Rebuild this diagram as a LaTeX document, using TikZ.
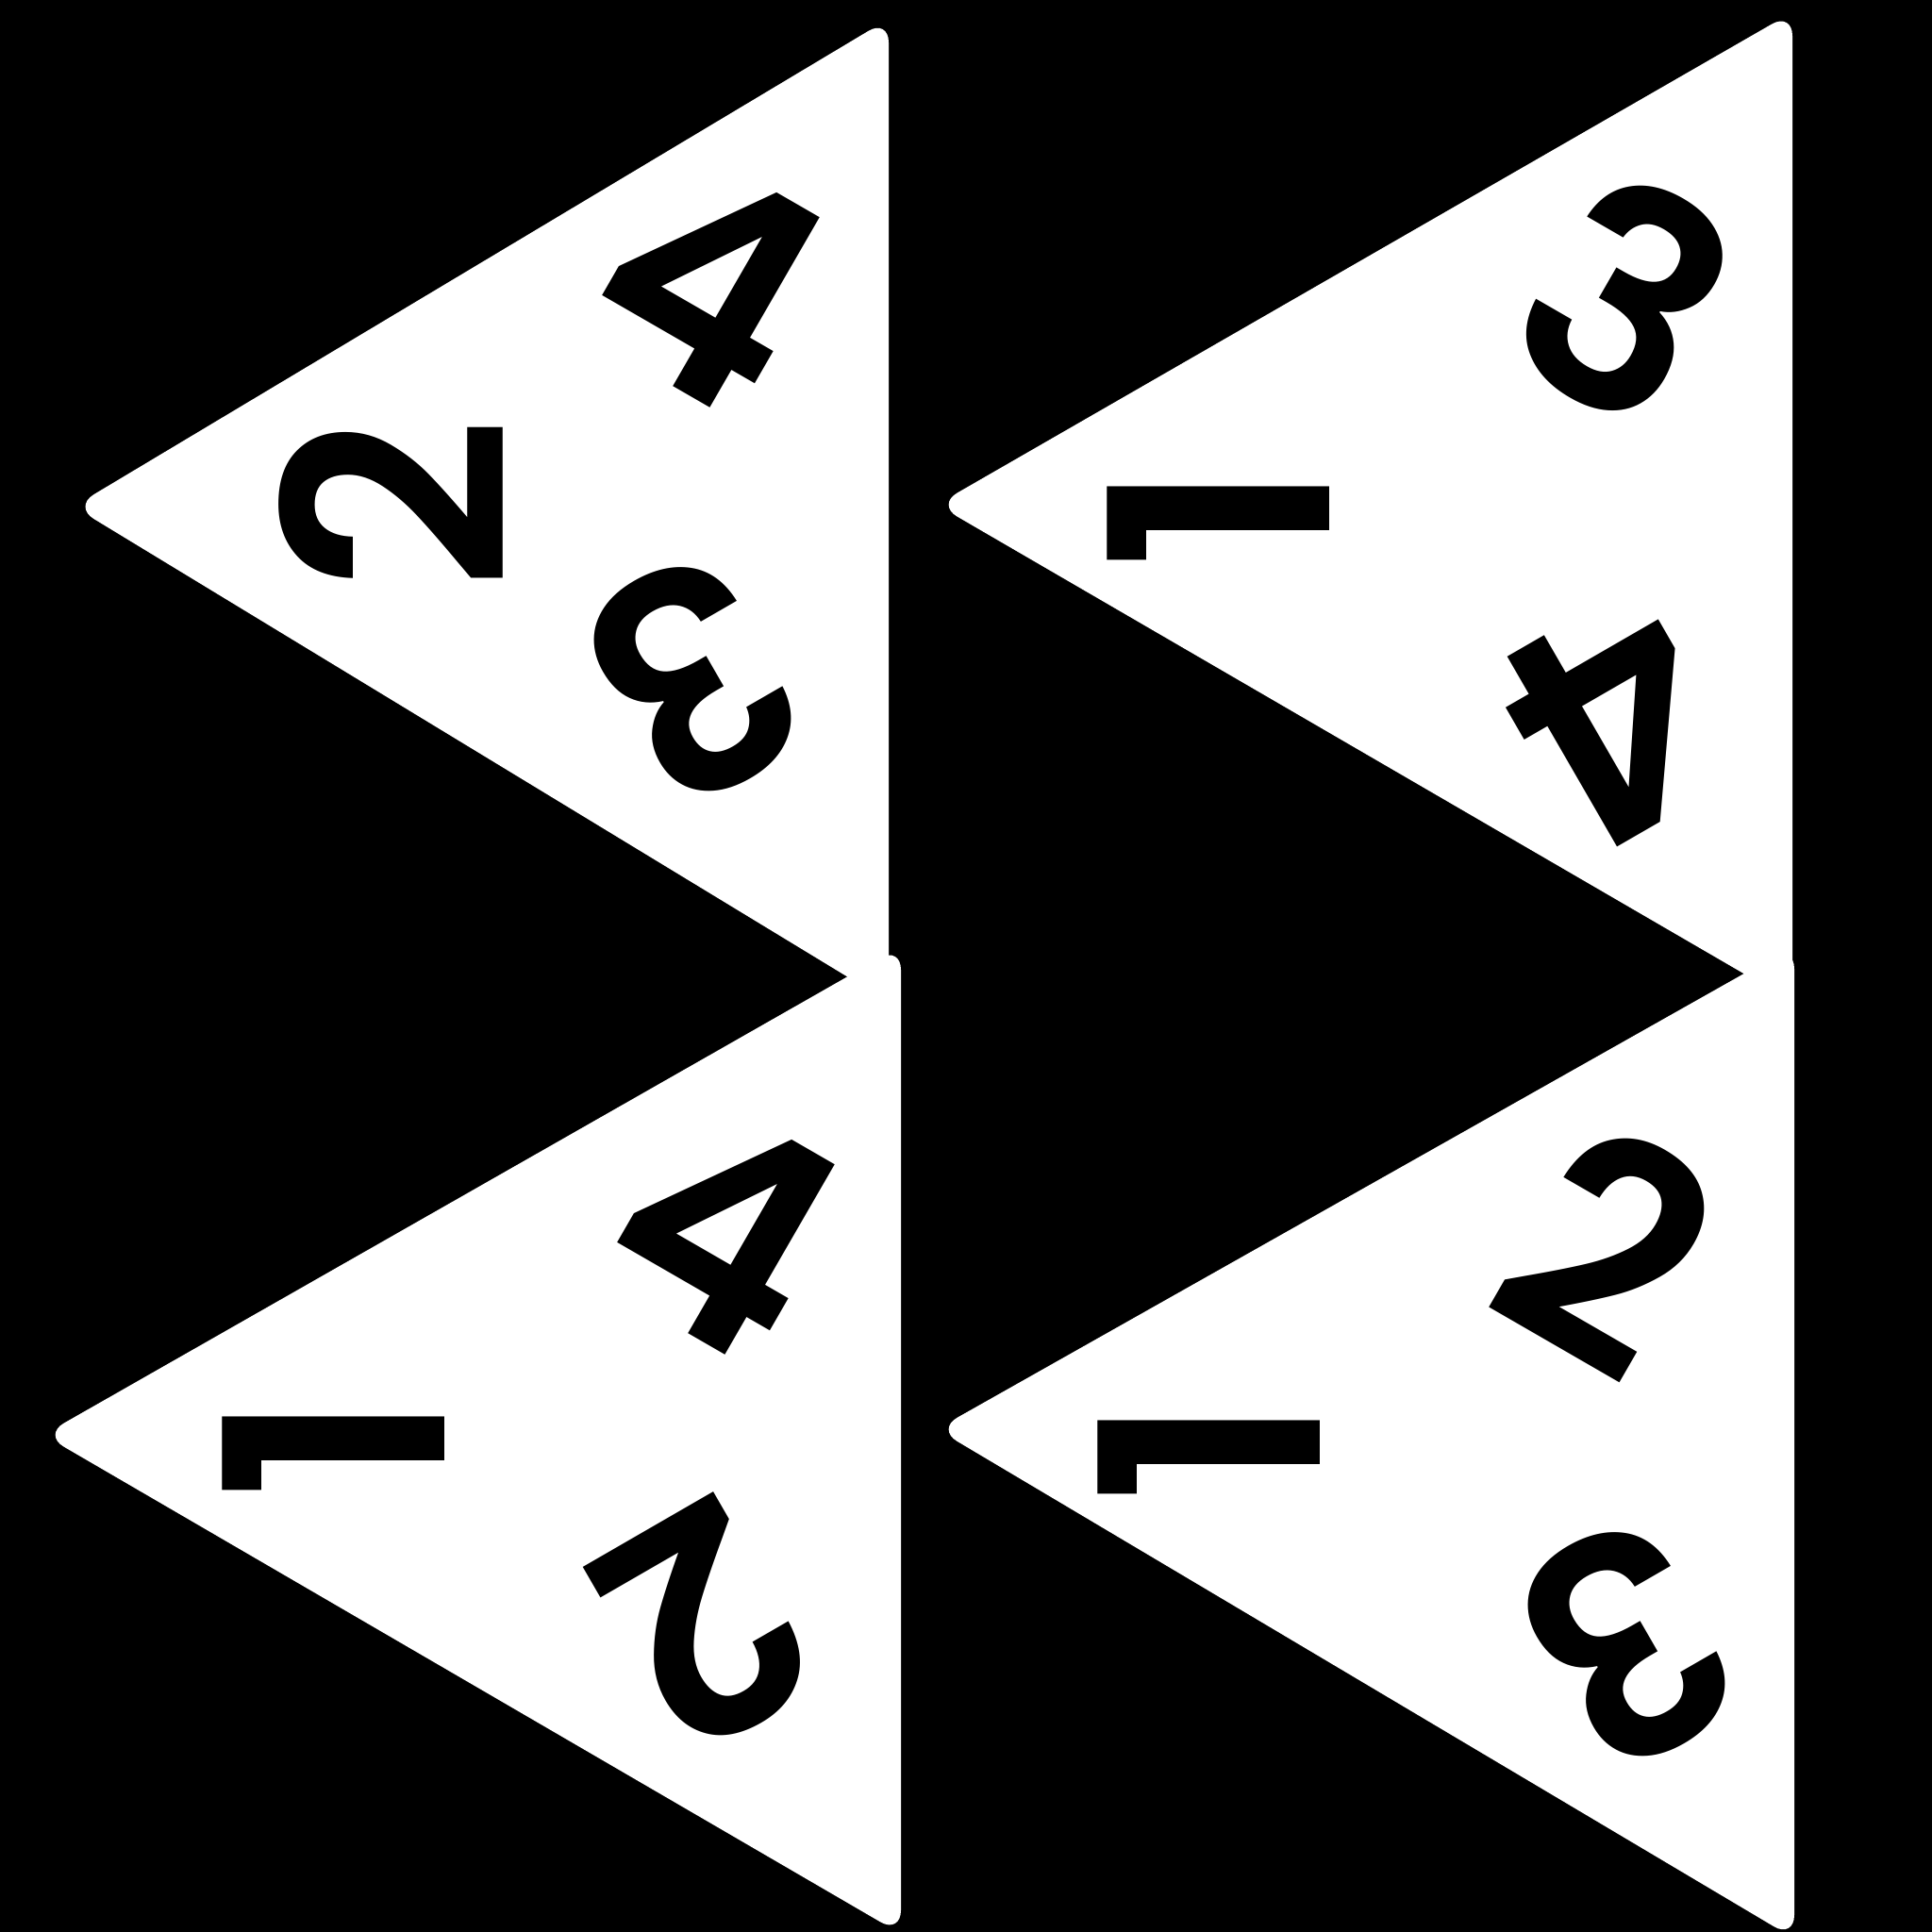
\documentclass[tikz,border=0pt]{standalone}
\usepackage{fontspec}
\setmainfont{Poppins}
\newfontface\dicefont{Poppins SemiBold}
\tikzset{
  face/.style={fill=white, rounded corners=2.5mm},
  num/.style={font=\fontsize{92}{92}\dicefont, inner sep=0pt}
}
\begin{document}
\begin{tikzpicture}
  \fill[black] (0,0) rectangle (20.48,20.48);
  \useasboundingbox (0,0) rectangle (20.48,20.48);

  \fill[face] (0.78,15.11) -- (9.42,20.28) -- (9.42,9.86) -- cycle;
  \fill[face] (9.93,15.13) -- (19.00,20.35) -- (19.00,9.86) -- cycle;
  \fill[face] (0.46,5.27) -- (9.55,10.45) -- (9.55,-0.02) -- cycle;
  \fill[face] (9.93,5.33) -- (19.02,10.46) -- (19.02,-0.07) -- cycle;

  \node[num, rotate=90] (A2) at (4.16,15.13) {2};
  \node[num, rotate=-30] (A4) at (7.53,17.50) {4};
  \node[num, rotate=-150] (A3) at (7.35,13.27) {3};

  \node[num, rotate=90] (B1) at (12.92,15.01) {1};
  \node[num, rotate=-30] (B3) at (17.24,17.32) {3};
  \node[num, rotate=-150] (B4) at (17.14,12.84) {4};

  \node[num, rotate=90] (C1) at (3.54,5.15) {1};
  \node[num, rotate=-30] (C4) at (7.69,7.46) {4};
  \node[num, rotate=-150] (C2) at (7.47,3.26) {2};

  \node[num, rotate=90] (D1) at (12.82,5.11) {1};
  \node[num, rotate=-30] (D2) at (17.05,7.24) {2};
  \node[num, rotate=-150] (D3) at (17.25,3.04) {3};
\end{tikzpicture}
\end{document}
